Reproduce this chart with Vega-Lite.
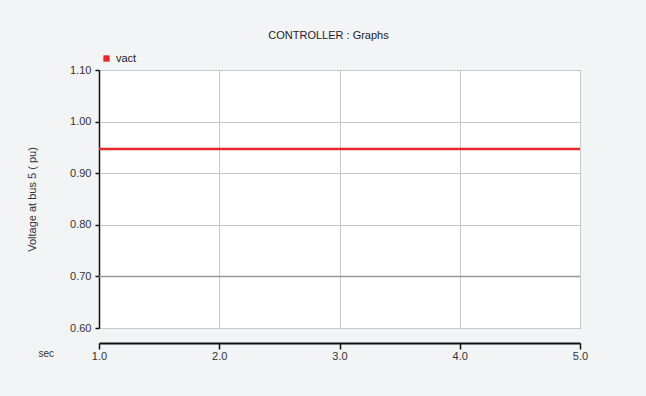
{
  "$schema": "https://vega.github.io/schema/vega-lite/v6.json",
  "width": 481,
  "height": 258,
  "autosize": "none",
  "padding": {"left": 99, "top": 70, "right": 66, "bottom": 68},
  "background": "#f3f4f6",
  "title": {
    "text": "CONTROLLER : Graphs",
    "font": "Liberation Sans",
    "fontSize": 11,
    "fontWeight": "normal",
    "color": "#222",
    "offset": 12,
    "dx": -11
  },
  "config": {
    "view": {"fill": "white", "stroke": "#aaa", "strokeWidth": 1},
    "font": "Liberation Sans"
  },
  "datasets": {
    "series": [
      {"t": 1.0, "v": 0.947, "s": "vact"},
      {"t": 5.0, "v": 0.947, "s": "vact"}
    ],
    "ref": [{"v": 0.7}]
  },
  "layer": [
    {
      "data": {"name": "ref"},
      "mark": {"type": "rule", "color": "#999", "strokeWidth": 1.5},
      "encoding": {"y": {"field": "v", "type": "quantitative", "scale": {"domain": [0.6, 1.1]}}}
    },
    {
      "data": {"name": "series"},
      "mark": {"type": "line", "strokeWidth": 2.5},
      "encoding": {
        "x": {
          "field": "t",
          "type": "quantitative",
          "scale": {"domain": [1, 5], "nice": false},
          "axis": {
            "title": "sec",
            "titleFontSize": 10,
            "titleFontWeight": "normal",
            "titleColor": "#333",
            "titleAnchor": "start",
            "titleAngle": 0,
            "titleX": -61,
            "titleY": 5,
            "values": [1, 2, 3, 4, 5],
            "format": ".1f",
            "labelFlush": false,
            "offset": 15,
            "domainColor": "#111",
            "domainWidth": 2,
            "tickColor": "#111",
            "tickSize": 6,
            "tickWidth": 1.5,
            "labelFontSize": 11,
            "labelColor": "#333",
            "labelPadding": 1,
            "gridColor": "#c8c8c8",
            "gridWidth": 1
          }
        },
        "y": {
          "field": "v",
          "type": "quantitative",
          "scale": {"domain": [0.6, 1.1], "nice": false, "zero": false},
          "axis": {
            "title": "Voltage at bus 5 ( pu)",
            "titleFontSize": 11,
            "titleFontWeight": "normal",
            "titleColor": "#333",
            "titlePadding": 32,
            "values": [0.6, 0.7, 0.8, 0.9, 1.0, 1.1],
            "format": ".2f",
            "labelFlush": false,
            "domainColor": "#111",
            "domainWidth": 1.5,
            "tickColor": "#111",
            "tickSize": 4,
            "tickWidth": 1.5,
            "labelFontSize": 11,
            "labelColor": "#333",
            "labelPadding": 4,
            "gridColor": "#c8c8c8",
            "gridWidth": 1
          }
        },
        "color": {
          "field": "s",
          "type": "nominal",
          "scale": {"range": ["#e8262a"]},
          "legend": {
            "title": null,
            "orient": "none",
            "legendX": 2,
            "legendY": -17,
            "symbolType": "square",
            "symbolSize": 40,
            "symbolFillColor": "#e8262a",
            "symbolStrokeWidth": 0,
            "labelFontSize": 11,
            "labelColor": "#222",
            "labelOffset": 4
          }
        }
      }
    }
  ]
}
